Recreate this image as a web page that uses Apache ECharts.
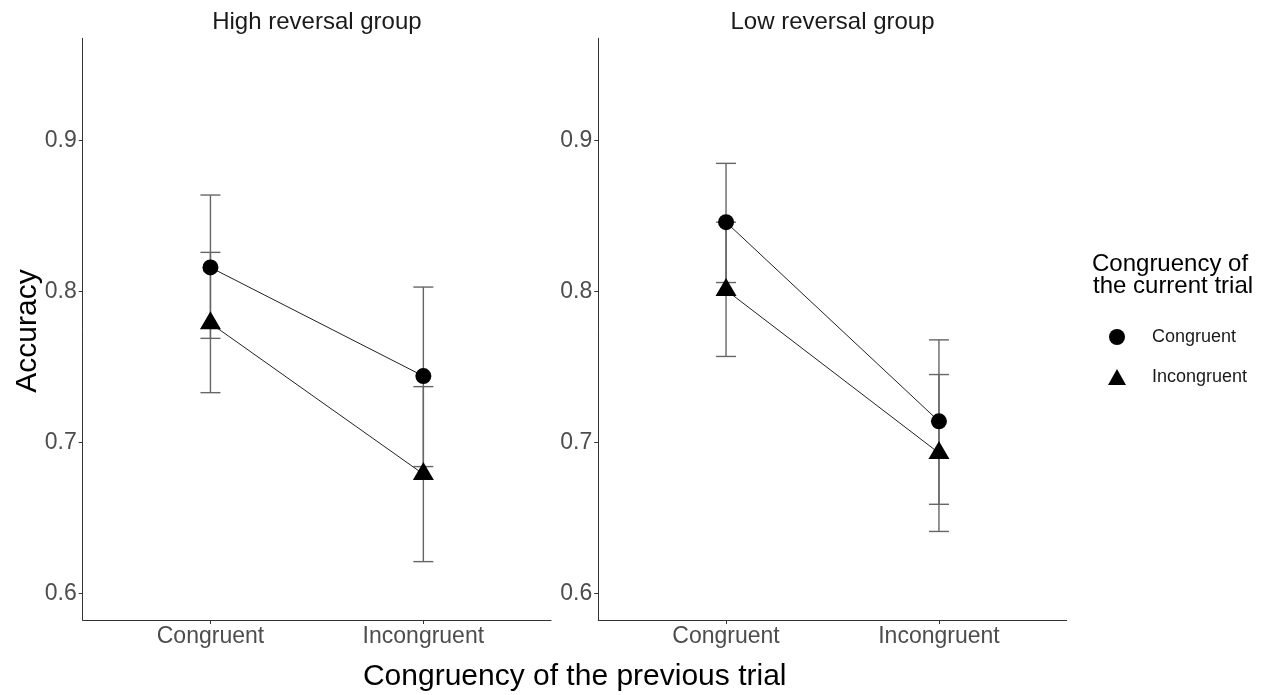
<!DOCTYPE html>
<html>
<head>
<meta charset="utf-8">
<title>Accuracy by previous and current trial congruency</title>
<script src="https://cdn.jsdelivr.net/npm/echarts@6/dist/echarts.min.js"></script>
<style>
  html, body { margin: 0; padding: 0; background: #ffffff; }
  #chart { width: 1266px; height: 695px; }
</style>
</head>
<body>
<div id="chart"></div>
<script>
// Panels (reversal groups) and x categories (previous-trial congruency)
const groups = ['High reversal group', 'Low reversal group'];
const prevCategories = ['Congruent', 'Incongruent'];
const currLevels = ['Congruent', 'Incongruent'];
const yTicks = [0.6, 0.7, 0.8, 0.9];

// High reversal group: mean accuracy and error-bar limits, [Congruent, Incongruent] previous trial
const highCongMean = [0.816, 0.744];
const highCongLow  = [0.769, 0.684];
const highCongHigh = [0.864, 0.803];
const highIncMean  = [0.779, 0.679];
const highIncLow   = [0.733, 0.621];
const highIncHigh  = [0.826, 0.737];

// Low reversal group
const lowCongMean = [0.846, 0.714];
const lowCongLow  = [0.806, 0.659];
const lowCongHigh = [0.885, 0.768];
const lowIncMean  = [0.801, 0.693];
const lowIncLow   = [0.757, 0.641];
const lowIncHigh  = [0.846, 0.745];

const FONT = '"Liberation Sans", Arial, Helvetica, sans-serif';
const AXIS_COLOR = '#333333';
const TICK_TEXT = '#4d4d4d';
const ERR_COLOR = '#666666';

const panels = [
  { cong: [highCongMean, highCongLow, highCongHigh], inc: [highIncMean, highIncLow, highIncHigh] },
  { cong: [lowCongMean, lowCongLow, lowCongHigh], inc: [lowIncMean, lowIncLow, lowIncHigh] }
];

const gridLeft = [82.7, 598.3];
const gridTop = 38.3, gridWidth = 468.4, gridHeight = 581.7;

function meanPoints(arr) {
  return arr.map((v, i) => [i + 1, v]);
}
function errRows(low, high) {
  return low.map((v, i) => [i + 1, v, high[i]]);
}

// vertical error bar with horizontal caps
function renderErr(params, api) {
  const x = api.value(0);
  const pLo = api.coord([x, api.value(1)]);
  const pHi = api.coord([x, api.value(2)]);
  const hw = 10;
  const st = { stroke: ERR_COLOR, lineWidth: 1.4 };
  return {
    type: 'group',
    children: [
      { type: 'line', shape: { x1: pLo[0], y1: pLo[1], x2: pHi[0], y2: pHi[1] }, style: st },
      { type: 'line', shape: { x1: pHi[0] - hw, y1: pHi[1], x2: pHi[0] + hw, y2: pHi[1] }, style: st },
      { type: 'line', shape: { x1: pLo[0] - hw, y1: pLo[1], x2: pLo[0] + hw, y2: pLo[1] }, style: st }
    ]
  };
}

const series = [];
panels.forEach((p, i) => {
  series.push({
    type: 'custom', name: 'err-' + i, xAxisIndex: i, yAxisIndex: i, z: 1,
    renderItem: renderErr,
    encode: { x: 0, y: [1, 2] },
    data: errRows(p.cong[1], p.cong[2]).concat(errRows(p.inc[1], p.inc[2]))
  });
  series.push({
    type: 'line', name: currLevels[0], xAxisIndex: i, yAxisIndex: i, z: 3,
    data: meanPoints(p.cong[0]),
    symbol: 'circle', symbolSize: 16,
    lineStyle: { color: '#222222', width: 1 },
    itemStyle: { color: '#000000' }
  });
  series.push({
    type: 'line', name: currLevels[1], xAxisIndex: i, yAxisIndex: i, z: 3,
    data: meanPoints(p.inc[0]),
    symbol: 'triangle', symbolSize: [21, 18], symbolOffset: [0, -3],
    lineStyle: { color: '#222222', width: 1 },
    itemStyle: { color: '#000000' }
  });
});

const option = {
  animation: false,
  backgroundColor: '#ffffff',
  textStyle: { fontFamily: FONT },
  grid: gridLeft.map(l => ({ left: l, top: gridTop, width: gridWidth, height: gridHeight })),
  xAxis: [0, 1].map(i => ({
    type: 'value', gridIndex: i, min: 0.4, max: 2.6,
    axisLine: { show: true, onZero: false, lineStyle: { color: AXIS_COLOR, width: 1 } },
    axisTick: { show: true, customValues: [1, 2], length: 4, lineStyle: { color: AXIS_COLOR } },
    axisLabel: {
      customValues: [1, 2], margin: 5,
      formatter: v => prevCategories[Math.round(v) - 1],
      fontSize: 23, color: TICK_TEXT, fontFamily: FONT
    },
    splitLine: { show: false }
  })),
  yAxis: [0, 1].map(i => ({
    type: 'value', gridIndex: i, min: 0.5823, max: 0.9679,
    axisLine: { show: true, onZero: false, lineStyle: { color: AXIS_COLOR, width: 1 } },
    axisTick: { show: true, customValues: yTicks, length: 4, lineStyle: { color: AXIS_COLOR } },
    axisLabel: {
      customValues: yTicks, margin: 6,
      formatter: v => v.toFixed(1),
      fontSize: 23, color: TICK_TEXT, fontFamily: FONT
    },
    splitLine: { show: false }
  })),
  legend: {
    orient: 'vertical',
    left: 1103, top: 323,
    itemWidth: 18, itemHeight: 16, itemGap: 22,
    data: [
      { name: currLevels[0], icon: 'circle' },
      { name: currLevels[1], icon: 'triangle' }
    ],
    textStyle: { fontSize: 18, color: '#1a1a1a', fontFamily: FONT, padding: [0, 0, 0, 21] },
    selectedMode: false
  },
  graphic: [
    { type: 'text', x: 316.9, y: 22, style: { text: groups[0], font: '24px ' + FONT, fill: '#1a1a1a', textAlign: 'center', textVerticalAlign: 'middle' } },
    { type: 'text', x: 832.5, y: 22, style: { text: groups[1], font: '24px ' + FONT, fill: '#1a1a1a', textAlign: 'center', textVerticalAlign: 'middle' } },
    { type: 'text', x: 574.7, y: 677, style: { text: 'Congruency of the previous trial', font: '30px ' + FONT, fill: '#000000', textAlign: 'center', textVerticalAlign: 'middle' } },
    { type: 'text', x: 28, y: 331, rotation: Math.PI / 2, style: { text: 'Accuracy', font: '30px ' + FONT, fill: '#000000', textAlign: 'center', textVerticalAlign: 'middle' } },
    { type: 'text', x: 1092, y: 264, style: { text: 'Congruency of', font: '24px ' + FONT, fill: '#000000', textAlign: 'left', textVerticalAlign: 'middle' } },
    { type: 'text', x: 1093, y: 286, style: { text: 'the current trial', font: '24px ' + FONT, fill: '#000000', textAlign: 'left', textVerticalAlign: 'middle' } }
  ],
  series: series
};

const chart = echarts.init(document.getElementById('chart'), null, { renderer: 'canvas' });
chart.setOption(option);
</script>
</body>
</html>
